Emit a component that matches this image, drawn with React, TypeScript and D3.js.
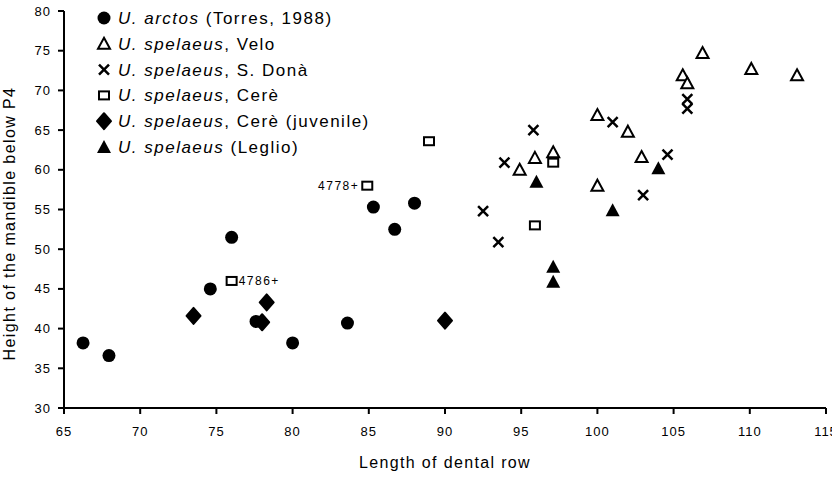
import React from "react";
import * as d3 from "d3";

const xTicks = [65, 70, 75, 80, 85, 90, 95, 100, 105, 110, 115];
const yTicks = [30, 35, 40, 45, 50, 55, 60, 65, 70, 75, 80];

const arctos: [number, number][] = [
  [66.25, 38.2], [67.95, 36.6], [74.6, 45.0], [76.0, 51.5], [77.6, 40.9],
  [80.0, 38.2], [83.6, 40.7], [85.3, 55.3], [86.7, 52.5], [88.0, 55.8],
];
const velo: [number, number][] = [
  [94.9, 60.0], [95.9, 61.5], [97.1, 62.2], [100.0, 66.9], [102.0, 64.8],
  [102.9, 61.6], [100.0, 58.0], [105.6, 71.9], [105.9, 70.9], [106.9, 74.7],
  [110.1, 72.7], [113.1, 71.9],
];
const dona: [number, number][] = [
  [92.5, 54.8], [93.5, 50.9], [93.9, 60.9], [95.8, 65.0], [101.0, 66.0],
  [103.0, 56.8], [104.6, 61.9], [105.9, 68.9], [105.9, 67.7],
];
const cere: [number, number][] = [
  [76.0, 46.0], [84.9, 58.0], [88.95, 63.6], [95.9, 53.0], [97.1, 60.9],
];
const cereJuv: [number, number][] = [
  [73.5, 41.6], [78.3, 43.3], [78.0, 40.8], [90.0, 41.0],
];
const leglio: [number, number][] = [
  [96.0, 58.5], [97.1, 47.8], [97.1, 45.9], [101.0, 54.9], [104.0, 60.2],
];
const labels: { x: number; y: number; text: string; side: "left" | "right" }[] = [
  { x: 84.9, y: 58.0, text: "4778+", side: "left" },
  { x: 76.0, y: 46.0, text: "4786+", side: "right" },
];

const legendSuffix = [" (Torres, 1988)", ", Velo", ", S. Donà", ", Cerè", ", Cerè (juvenile)", " (Leglio)"];
const legendSpecies = ["U. arctos", "U. spelaeus", "U. spelaeus", "U. spelaeus", "U. spelaeus", "U. spelaeus"];

type Kind = "circle" | "triangle" | "x" | "square" | "diamond" | "ftriangle";
const kinds: Kind[] = ["circle", "triangle", "x", "square", "diamond", "ftriangle"];

function Marker({ kind, cx, cy }: { kind: Kind; cx: number; cy: number }) {
  switch (kind) {
    case "circle":
      return <circle cx={cx} cy={cy} r={6.5} fill="#000" />;
    case "diamond":
      return (
        <path
          d={`M${cx},${cy - 8}L${cx + 7},${cy}L${cx},${cy + 8}L${cx - 7},${cy}Z`}
          fill="#000"
          stroke="#000"
          strokeWidth={2}
          strokeLinejoin="round"
        />
      );
    case "triangle":
      return (
        <path
          d={`M${cx},${cy - 6}L${cx + 6},${cy + 5}L${cx - 6},${cy + 5}Z`}
          fill="#fff"
          stroke="#000"
          strokeWidth={2}
        />
      );
    case "ftriangle":
      return <path d={`M${cx},${cy - 7}L${cx + 7},${cy + 6}L${cx - 7},${cy + 6}Z`} fill="#000" />;
    case "x":
      return (
        <path
          d={`M${cx - 5},${cy - 5}L${cx + 5},${cy + 5}M${cx + 5},${cy - 5}L${cx - 5},${cy + 5}`}
          stroke="#000"
          strokeWidth={2.5}
        />
      );
    case "square":
      return <rect x={cx - 5} y={cy - 4} width={10} height={8} fill="#fff" stroke="#000" strokeWidth={2} />;
  }
}

export default function App() {
  const x = d3.scaleLinear().domain([65, 115]).range([64, 826]);
  const y = d3.scaleLinear().domain([30, 80]).range([408, 11]);
  const font = "'Liberation Sans', Arial, sans-serif";
  const series: [number, number][][] = [arctos, velo, dona, cere, cereJuv, leglio];

  return (
    <svg width={832} height={482} style={{ position: "absolute", left: 0, top: 0, background: "#fff" }} fontFamily={font}>
      <rect width={832} height={482} fill="#fff" />
      <line x1={x(65)} x2={x(115)} y1={y(30)} y2={y(30)} stroke="#000" strokeWidth={2} />
      <line x1={x(65)} x2={x(65)} y1={y(30)} y2={y(80)} stroke="#000" strokeWidth={2} />
      {xTicks.map((t) => (
        <g key={"x" + t}>
          <line x1={x(t)} x2={x(t)} y1={y(30)} y2={y(30) + 6} stroke="#000" strokeWidth={2} />
          <text x={x(t)} y={y(30) + 28} textAnchor="middle" fontSize={13} letterSpacing={1}>
            {t}
          </text>
        </g>
      ))}
      {yTicks.map((t) => (
        <g key={"y" + t}>
          <line x1={x(65) - 6} x2={x(65)} y1={y(t)} y2={y(t)} stroke="#000" strokeWidth={2} />
          <text x={x(65) - 13} y={y(t) + 4.5} textAnchor="end" fontSize={13} letterSpacing={1}>
            {t}
          </text>
        </g>
      ))}
      <text x={445} y={468} textAnchor="middle" fontSize={16} letterSpacing={1.35}>
        Length of dental row
      </text>
      <text
        transform={`translate(15,${(y(30) + y(80)) / 2 + 14}) rotate(-90)`}
        textAnchor="middle"
        fontSize={16}
        letterSpacing={1.4}
      >
        Height of the mandible below P4
      </text>
      {series.map((s, i) =>
        s.map((p, j) => <Marker key={i + "-" + j} kind={kinds[i]} cx={x(p[0])} cy={y(p[1])} />)
      )}
      {labels.map((l, i) => (
        <text
          key={"l" + i}
          x={l.side === "left" ? x(l.x) - 8 : x(l.x) + 7}
          y={y(l.y) + 4}
          textAnchor={l.side === "left" ? "end" : "start"}
          fontSize={12}
          letterSpacing={1.5}
        >
          {l.text}
        </text>
      ))}
      {legendSpecies.map((n, i) => {
        const ly = 18 + i * 25.8;
        return (
          <g key={"lg" + i}>
            <Marker kind={kinds[i]} cx={104} cy={ly} />
            <text x={118} y={ly + 6} fontSize={17} letterSpacing={1.5}>
              <tspan fontStyle="italic">{n}</tspan>
              <tspan>{legendSuffix[i]}</tspan>
            </text>
          </g>
        );
      })}
    </svg>
  );
}
